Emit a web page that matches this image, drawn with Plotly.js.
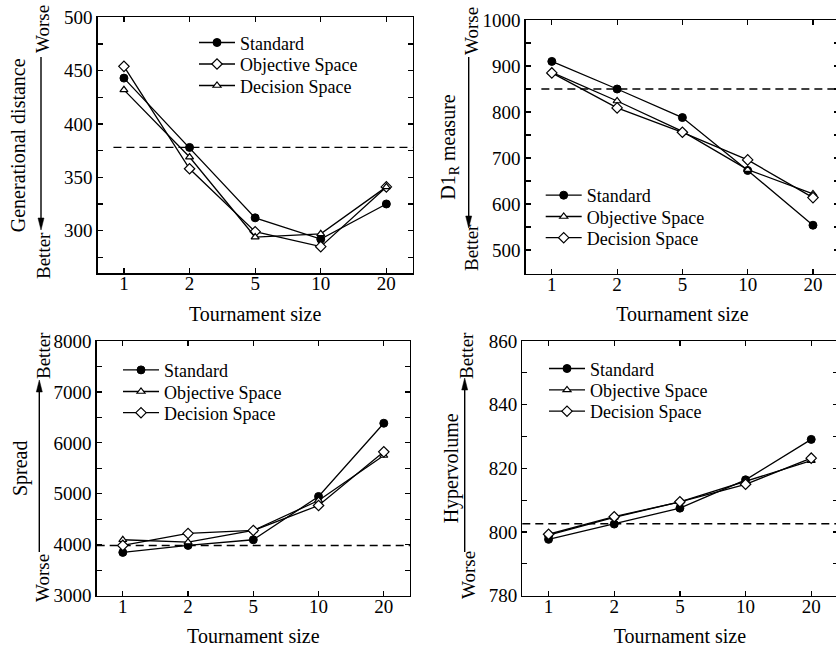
<!DOCTYPE html>
<html>
<head>
<meta charset="utf-8">
<script src="https://cdn.plot.ly/plotly-3.0.1.min.js"></script>
<style>
html, body { margin: 0; padding: 0; overflow: hidden; background: #fff; }
#chart { width: 842px; height: 650px; }
</style>
</head>
<body>
<div id="chart"></div>
<script>
// ---------- data ----------
const tournamentSizes = ['1', '2', '5', '10', '20'];

const gdStandard  = [443, 378, 312, 292, 325];
const gdObjective = [454, 358, 299, 285, 341];
const gdDecision  = [432, 369, 294, 297, 341];

const d1Standard  = [910, 850, 788, 673, 554];
const d1Objective = [886, 824, 758, 675, 622];
const d1Decision  = [885, 809, 756, 696, 614];

const spStandard  = [3850, 3987, 4098, 4948, 6386];
const spObjective = [4098, 4052, 4281, 4869, 5752];
const spDecision  = [3987, 4222, 4281, 4771, 5824];

const hvStandard  = [797.7, 802.5, 807.5, 816.4, 829.1];
const hvObjective = [799.0, 804.6, 809.5, 816.0, 822.4];
const hvDecision  = [799.3, 804.8, 809.5, 815.0, 823.2];

const referenceLevels = [378, 850, 3985, 802.6];
const seriesNames = ['Standard', 'Objective Space', 'Decision Space'];

// ---------- layout helpers ----------
const W = 842, H = 650;
const FONT = 'Liberation Serif';
const dx = (a, b) => [a / W, b / W];
const dy = (t, b) => [1 - b / H, 1 - t / H];
const px = v => v / W;
const py = v => 1 - v / H;

const mk = {
  circle:   { symbol: 'circle', size: 8, color: '#000', line: { color: '#000', width: 1 } },
  diamond:  { symbol: 'diamond', size: 8, color: '#fff', line: { color: '#000', width: 1.2 } },
  triangle: { symbol: 'triangle-up', size: 7, color: '#fff', line: { color: '#000', width: 1.2 } }
};

// one legend entry per trace so rows can be spaced like the reference
let legendCount = 0;
function trace(y, name, marker, idx) {
  const s = idx === 1 ? '' : String(idx);
  legendCount += 1;
  return {
    x: tournamentSizes, y: y, name: name, type: 'scatter', mode: 'lines+markers',
    xaxis: 'x' + s, yaxis: 'y' + s, legend: legendCount === 1 ? 'legend' : 'legend' + legendCount,
    line: { color: '#000', width: 1.3 }, marker: marker, cliponaxis: false
  };
}

const data = [
  trace(gdStandard,  seriesNames[0], mk.circle,   1),
  trace(gdObjective, seriesNames[1], mk.diamond,  1),
  trace(gdDecision,  seriesNames[2], mk.triangle, 1),
  trace(d1Standard,  seriesNames[0], mk.circle,   2),
  trace(d1Objective, seriesNames[1], mk.triangle, 2),
  trace(d1Decision,  seriesNames[2], mk.diamond,  2),
  trace(spStandard,  seriesNames[0], mk.circle,   3),
  trace(spObjective, seriesNames[1], mk.triangle, 3),
  trace(spDecision,  seriesNames[2], mk.diamond,  3),
  trace(hvStandard,  seriesNames[0], mk.circle,   4),
  trace(hvObjective, seriesNames[1], mk.triangle, 4),
  trace(hvDecision,  seriesNames[2], mk.diamond,  4)
];

function xAx(domain, anchor) {
  return {
    domain: domain, anchor: anchor, type: 'category', range: [-0.4, 4.4],
    showline: true, linecolor: '#000', linewidth: 1.3, mirror: 'ticks',
    ticks: 'inside', ticklen: 5, tickwidth: 1.2, tickcolor: '#000',
    ticklabelstandoff: -7,
    showgrid: false, zeroline: false, fixedrange: true,
    tickfont: { family: FONT, size: 19, color: '#000' },
    title: { text: 'Tournament size', font: { family: FONT, size: 20, color: '#000' }, standoff: 13 }
  };
}
function yAx(domain, anchor, range, dtick, title, standoff) {
  return {
    domain: domain, anchor: anchor, range: range, dtick: dtick, tick0: 0,
    showline: true, linecolor: '#000', linewidth: 1.3, mirror: 'ticks',
    ticks: 'inside', ticklen: 5, tickwidth: 1.2, tickcolor: '#000',
    minor: { dtick: dtick / 2, ticks: 'inside', ticklen: 5, tickwidth: 1.2, tickcolor: '#000', showgrid: false },
    showgrid: false, zeroline: false, fixedrange: true,
    tickfont: { family: FONT, size: 19, color: '#000' },
    title: { text: title, font: { family: FONT, size: 20, color: '#000' }, standoff: standoff }
  };
}

function legendAt(xLine, rowCenter) {
  return {
    x: px(xLine - 5), y: py(rowCenter - 19), xanchor: 'left', yanchor: 'top',
    bgcolor: 'rgba(0,0,0,0)', borderwidth: 0, itemwidth: 36,
    font: { family: FONT, size: 18, color: '#000' },
    itemclick: false, itemdoubleclick: false
  };
}

const dashShapes = [
  { xref: 'x domain',  yref: 'y',  x0: 0.05, x1: 1, y0: referenceLevels[0], y1: referenceLevels[0] },
  { xref: 'x2 domain', yref: 'y2', x0: 0.05, x1: 1, y0: referenceLevels[1], y1: referenceLevels[1] },
  { xref: 'x3 domain', yref: 'y3', x0: 0,    x1: 1, y0: referenceLevels[2], y1: referenceLevels[2] },
  { xref: 'x4 domain', yref: 'y4', x0: 0,    x1: 1, y0: referenceLevels[3], y1: referenceLevels[3] }
].map(s => Object.assign(s, { type: 'line', line: { color: '#000', width: 1.3, dash: '8px,5px' }, layer: 'below' }));

// direction arrows (Worse -> Better) drawn as shapes in paper space
function arrowShapes(x, yTip, yTail) {
  const dir = yTail > yTip ? 1 : -1;
  const headLen = 12, headHalf = 3;
  const base = yTip + dir * headLen;
  return [
    { type: 'line', xref: 'paper', yref: 'paper', x0: px(x), x1: px(x), y0: py(yTail), y1: py(base),
      line: { color: '#000', width: 1.4 } },
    { type: 'path', xref: 'paper', yref: 'paper',
      path: 'M' + px(x) + ',' + py(yTip) + ' L' + px(x - headHalf) + ',' + py(base) +
            ' L' + px(x + headHalf) + ',' + py(base) + ' Z',
      fillcolor: '#000', line: { color: '#000', width: 0.5 } }
  ];
}

function label(text, x, y) {
  return { text: text, xref: 'paper', yref: 'paper', x: px(x), y: py(y), textangle: -90,
    showarrow: false, xanchor: 'center', yanchor: 'middle',
    font: { family: FONT, size: 19, color: '#000' } };
}

const annotations = [
  label('Worse', 43, 29),   label('Better', 43, 256),
  label('Worse', 471, 31),  label('Better', 471, 248),
  label('Better', 43, 356), label('Worse', 42, 578),
  label('Better', 467, 355), label('Worse', 468, 575)
];

const shapes = dashShapes
  .concat(arrowShapes(41, 230, 57))
  .concat(arrowShapes(468.7, 228, 57))
  .concat(arrowShapes(39.3, 380, 552))
  .concat(arrowShapes(464.7, 378, 552));

const layout = {
  width: W, height: H, margin: { l: 0, r: 0, t: 0, b: 0 },
  paper_bgcolor: '#fff', plot_bgcolor: '#fff',
  font: { family: FONT, color: '#000' },
  showlegend: true,
  xaxis:  xAx(dx(97.7, 412.6), 'y'),
  yaxis:  yAx(dy(17.3, 273.3), 'x', [260, 500], 50, 'Generational distance', 33),
  xaxis2: xAx(dx(525.7, 839.1), 'y2'),
  yaxis2: yAx(dy(20, 274), 'x2', [448, 1000], 100, 'D1<sub>R</sub> measure', 21),
  xaxis3: xAx(dx(96.7, 409.9), 'y3'),
  yaxis3: yAx(dy(341, 595.7), 'x3', [3000, 8000], 1000, 'Spread', 20),
  xaxis4: xAx(dx(522.3, 837.5), 'y4'),
  yaxis4: yAx(dy(341, 595.7), 'x4', [780, 860], 20, 'Hypervolume', 24),
  shapes: shapes,
  annotations: annotations
};

const legendSpots = [
  [199, 43.3], [199, 64.8], [199, 86.3],
  [545.7, 196], [545.7, 217.3], [545.7, 238.5],
  [123, 370.7], [123, 392.3], [123, 413.5],
  [549, 369.3], [549, 390.7], [549, 412]
];
legendSpots.forEach((p, i) => {
  layout[i === 0 ? 'legend' : 'legend' + (i + 1)] = legendAt(p[0], p[1]);
});

Plotly.newPlot('chart', data, layout, { displayModeBar: false, staticPlot: true });
</script>
</body>
</html>
